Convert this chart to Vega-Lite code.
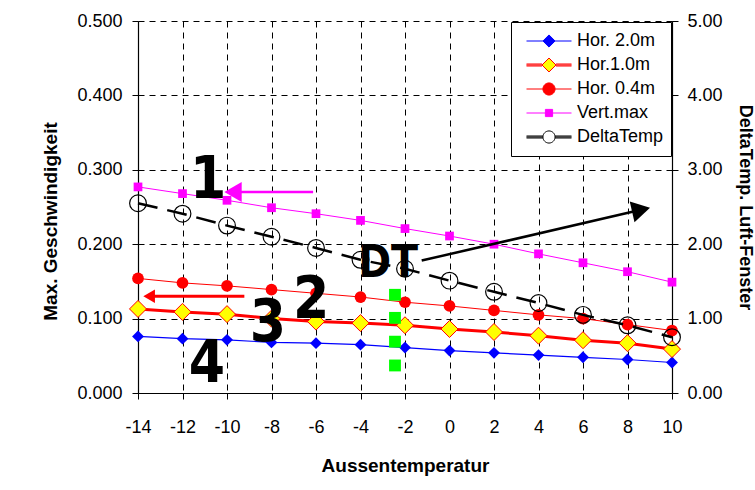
{
  "$schema": "https://vega.github.io/schema/vega-lite/v6.json",
  "width": 534,
  "height": 372,
  "autosize": {"type": "none"},
  "padding": {"left": 138, "top": 21, "right": 83, "bottom": 97},
  "background": "white",
  "config": {
    "view": {"stroke": null},
    "font": "Liberation Sans",
    "axis": {
      "labelFont": "Liberation Sans",
      "labelFontSize": 18,
      "labelColor": "#000000",
      "titleFont": "Liberation Sans",
      "titleFontSize": 19,
      "titleFontWeight": "bold",
      "titleColor": "#000000",
      "domainColor": "#000000",
      "domainWidth": 1.2,
      "tickColor": "#000000",
      "tickSize": 6,
      "labelFlush": false
    },
    "axisLeft": {"gridDash": [6, 5], "gridColor": "#000000", "gridWidth": 1},
    "axisBottom": {"gridDash": [6, 5], "gridColor": "#000000", "gridWidth": 1},
    "legend": {
      "orient": "top-right",
      "offset": 1,
      "padding": 7,
      "strokeColor": "#000000",
      "fillColor": "#FFFFFF",
      "symbolSize": 2025,
      "symbolStrokeWidth": 1,
      "symbolOpacity": 1,
      "symbolOffset": 8,
      "labelFont": "Liberation Sans",
      "labelFontSize": 18,
      "labelColor": "#000000",
      "labelOffset": 5,
      "rowPadding": 0,
      "clipHeight": 24
    }
  },
  "data": {
    "values": [
      {"x": -14, "series": "Hor. 2.0m", "v": 0.076},
      {"x": -12, "series": "Hor. 2.0m", "v": 0.073},
      {"x": -10, "series": "Hor. 2.0m", "v": 0.0715},
      {"x": -8, "series": "Hor. 2.0m", "v": 0.068},
      {"x": -6, "series": "Hor. 2.0m", "v": 0.067},
      {"x": -4, "series": "Hor. 2.0m", "v": 0.065},
      {"x": -2, "series": "Hor. 2.0m", "v": 0.061},
      {"x": 0, "series": "Hor. 2.0m", "v": 0.057},
      {"x": 2, "series": "Hor. 2.0m", "v": 0.054},
      {"x": 4, "series": "Hor. 2.0m", "v": 0.051},
      {"x": 6, "series": "Hor. 2.0m", "v": 0.048},
      {"x": 8, "series": "Hor. 2.0m", "v": 0.045},
      {"x": 10, "series": "Hor. 2.0m", "v": 0.041},
      {"x": -14, "series": "Hor.1.0m", "v": 0.113},
      {"x": -12, "series": "Hor.1.0m", "v": 0.109},
      {"x": -10, "series": "Hor.1.0m", "v": 0.106},
      {"x": -8, "series": "Hor.1.0m", "v": 0.100},
      {"x": -6, "series": "Hor.1.0m", "v": 0.096},
      {"x": -4, "series": "Hor.1.0m", "v": 0.094},
      {"x": -2, "series": "Hor.1.0m", "v": 0.091},
      {"x": 0, "series": "Hor.1.0m", "v": 0.086},
      {"x": 2, "series": "Hor.1.0m", "v": 0.082},
      {"x": 4, "series": "Hor.1.0m", "v": 0.077},
      {"x": 6, "series": "Hor.1.0m", "v": 0.071},
      {"x": 8, "series": "Hor.1.0m", "v": 0.067},
      {"x": 10, "series": "Hor.1.0m", "v": 0.059},
      {"x": -14, "series": "Hor. 0.4m", "v": 0.154},
      {"x": -12, "series": "Hor. 0.4m", "v": 0.148},
      {"x": -10, "series": "Hor. 0.4m", "v": 0.144},
      {"x": -8, "series": "Hor. 0.4m", "v": 0.139},
      {"x": -6, "series": "Hor. 0.4m", "v": 0.134},
      {"x": -4, "series": "Hor. 0.4m", "v": 0.129},
      {"x": -2, "series": "Hor. 0.4m", "v": 0.122},
      {"x": 0, "series": "Hor. 0.4m", "v": 0.117},
      {"x": 2, "series": "Hor. 0.4m", "v": 0.111},
      {"x": 4, "series": "Hor. 0.4m", "v": 0.105},
      {"x": 6, "series": "Hor. 0.4m", "v": 0.100},
      {"x": 8, "series": "Hor. 0.4m", "v": 0.092},
      {"x": 10, "series": "Hor. 0.4m", "v": 0.084},
      {"x": -14, "series": "Vert.max", "v": 0.277},
      {"x": -12, "series": "Vert.max", "v": 0.268},
      {"x": -10, "series": "Vert.max", "v": 0.259},
      {"x": -8, "series": "Vert.max", "v": 0.249},
      {"x": -6, "series": "Vert.max", "v": 0.241},
      {"x": -4, "series": "Vert.max", "v": 0.232},
      {"x": -2, "series": "Vert.max", "v": 0.221},
      {"x": 0, "series": "Vert.max", "v": 0.211},
      {"x": 2, "series": "Vert.max", "v": 0.200},
      {"x": 4, "series": "Vert.max", "v": 0.187},
      {"x": 6, "series": "Vert.max", "v": 0.175},
      {"x": 8, "series": "Vert.max", "v": 0.163},
      {"x": 10, "series": "Vert.max", "v": 0.149},
      {"x": -14, "series": "DeltaTemp", "v": 2.55},
      {"x": -12, "series": "DeltaTemp", "v": 2.41},
      {"x": -10, "series": "DeltaTemp", "v": 2.25},
      {"x": -8, "series": "DeltaTemp", "v": 2.10},
      {"x": -6, "series": "DeltaTemp", "v": 1.95},
      {"x": -4, "series": "DeltaTemp", "v": 1.79},
      {"x": -2, "series": "DeltaTemp", "v": 1.67},
      {"x": 0, "series": "DeltaTemp", "v": 1.51},
      {"x": 2, "series": "DeltaTemp", "v": 1.36},
      {"x": 4, "series": "DeltaTemp", "v": 1.21},
      {"x": 6, "series": "DeltaTemp", "v": 1.05},
      {"x": 8, "series": "DeltaTemp", "v": 0.91},
      {"x": 10, "series": "DeltaTemp", "v": 0.75}
    ]
  },
  "encoding": {
    "x": {
      "field": "x", "type": "quantitative",
      "scale": {"domain": [-14, 10], "nice": false, "zero": false},
      "axis": {
        "values": [-14, -12, -10, -8, -6, -4, -2, 0, 2, 4, 6, 8, 10],
        "labelExpr": "'' + datum.value",
        "labelFlush": false,
        "title": "Aussentemperatur",
        "grid": true,
        "labelPadding": 19,
        "titlePadding": 20
      }
    }
  },
  "layer": [
    {
      "encoding": {
        "y": {
          "field": "v", "type": "quantitative",
          "scale": {"domain": [0, 0.5], "nice": false},
          "axis": {
            "values": [0, 0.1, 0.2, 0.3, 0.4, 0.5],
            "format": ".3f",
            "title": "Max. Geschwindigkeit",
            "grid": true,
            "labelPadding": 10,
            "titleX": -78,
            "titleY": 200
          }
        }
      },
      "layer": [
        {"transform": [{"filter": "datum.series === 'Hor. 2.0m'"}],
         "mark": {"type": "line", "color": "#0000FF", "strokeWidth": 1.2}},
        {"transform": [{"filter": "datum.series === 'Hor. 2.0m'"}],
         "mark": {"type": "point", "shape": "diamond", "filled": true, "color": "#0000FF", "size": 140, "opacity": 1}},
        {"transform": [{"filter": "datum.series === 'Hor.1.0m'"}],
         "mark": {"type": "line", "color": "#FF0000", "strokeWidth": 3}},
        {"transform": [{"filter": "datum.series === 'Hor.1.0m'"}],
         "mark": {"type": "point", "shape": "diamond", "filled": true, "fill": "#FFFF00", "stroke": "#FF0000", "strokeWidth": 1, "size": 290, "opacity": 1}},
        {"transform": [{"filter": "datum.series === 'Hor. 0.4m'"}],
         "mark": {"type": "line", "color": "#FF0000", "strokeWidth": 1}},
        {"transform": [{"filter": "datum.series === 'Hor. 0.4m'"}],
         "mark": {"type": "point", "shape": "circle", "filled": true, "color": "#FF0000", "size": 137, "opacity": 1}},
        {"transform": [{"filter": "datum.series === 'Vert.max'"}],
         "mark": {"type": "line", "color": "#FF00FF", "strokeWidth": 1}},
        {"transform": [{"filter": "datum.series === 'Vert.max'"}],
         "mark": {"type": "point", "shape": "square", "filled": true, "color": "#FF00FF", "size": 76, "opacity": 1}}
      ]
    },
    {
      "transform": [{"filter": "datum.series === 'DeltaTemp'"}],
      "encoding": {
        "y": {
          "field": "v", "type": "quantitative",
          "scale": {"domain": [0, 5], "nice": false},
          "axis": {
            "orient": "right",
            "values": [0, 1, 2, 3, 4, 5],
            "format": ".2f",
            "title": "DeltaTemp. Luft-Fenster",
            "titleFontSize": 18,
            "grid": false,
            "labelPadding": 9,
            "titlePadding": 13
          }
        }
      },
      "layer": [
        {"mark": {"type": "line", "color": "#000000", "strokeWidth": 2.5, "strokeDash": [20, 10]}},
        {"mark": {"type": "point", "shape": "circle", "filled": false, "stroke": "#000000", "strokeWidth": 1.2, "size": 280, "opacity": 1}}
      ]
    },
    {
      "encoding": {
        "y": {"field": "v", "type": "quantitative", "scale": {"domain": [0, 0.5], "nice": false}, "axis": null}
      },
      "layer": [
        {
          "data": {"values": [
            {"x": -2.45, "v": 0.132}, {"x": -2.45, "v": 0.101},
            {"x": -2.45, "v": 0.069}, {"x": -2.45, "v": 0.037}
          ]},
          "mark": {"type": "point", "shape": "square", "filled": true, "color": "#00FF00", "size": 140, "opacity": 1}
        },
        {
          "data": {"values": [{"x": -6.13, "v": 0.270, "x2": -9.7, "v2": 0.270}]},
          "mark": {"type": "rule", "color": "#FF00FF", "strokeWidth": 2.5},
          "encoding": {"x2": {"field": "x2"}, "y2": {"field": "v2"}}
        },
        {
          "data": {"values": [{"x": -9.73, "v": 0.270}]},
          "mark": {"type": "point", "shape": "triangle-left", "filled": true, "color": "#FF00FF", "size": 400, "opacity": 1}
        },
        {
          "data": {"values": [{"x": -9.22, "v": 0.130, "x2": -13.4, "v2": 0.130}]},
          "mark": {"type": "rule", "color": "#FF0000", "strokeWidth": 3},
          "encoding": {"x2": {"field": "x2"}, "y2": {"field": "v2"}}
        },
        {
          "data": {"values": [{"x": -13.5, "v": 0.130}]},
          "mark": {"type": "point", "shape": "triangle-left", "filled": true, "color": "#FF0000", "size": 180, "opacity": 1}
        },
        {
          "data": {"values": [{"x": -1.25, "v": 0.178, "x2": 8.61, "v2": 0.2462}]},
          "mark": {"type": "rule", "color": "#000000", "strokeWidth": 2.5},
          "encoding": {"x2": {"field": "x2"}, "y2": {"field": "v2"}}
        },
        {
          "data": {"values": [{"x": 8.61, "v": 0.2462}]},
          "mark": {"type": "point", "shape": "triangle-right", "filled": true, "color": "#000000", "size": 450, "angle": 347, "opacity": 1}
        },
        {
          "data": {"values": [
            {"x": -10.85, "v": 0.2844, "label": "1"},
            {"x": -6.22, "v": 0.123, "label": "2"},
            {"x": -8.16, "v": 0.0921, "label": "3"},
            {"x": -10.9, "v": 0.037, "label": "4"}
          ]},
          "mark": {"type": "text", "font": "DejaVu Sans Condensed", "fontWeight": "bold", "fontSize": 58, "color": "#000000", "align": "center", "baseline": "middle"},
          "encoding": {"text": {"field": "label"}}
        },
        {
          "data": {"values": [{"x": -2.76, "v": 0.174, "label": "DT"}]},
          "mark": {"type": "text", "font": "DejaVu Sans Condensed", "fontWeight": "bold", "fontSize": 44, "color": "#000000", "align": "center", "baseline": "middle"},
          "encoding": {"text": {"field": "label"}}
        },
        {
          "data": {"values": [
            {"x": -14, "v": 0, "series": "Hor. 2.0m"},
            {"x": -14, "v": 0, "series": "Hor.1.0m"},
            {"x": -14, "v": 0, "series": "Hor. 0.4m"},
            {"x": -14, "v": 0, "series": "Vert.max"},
            {"x": -14, "v": 0, "series": "DeltaTemp"}
          ]},
          "mark": {"type": "point", "filled": true, "opacity": 0, "strokeWidth": 1},
          "encoding": {
            "shape": {
              "field": "series", "type": "nominal",
              "scale": {
                "domain": ["Hor. 2.0m", "Hor.1.0m", "Hor. 0.4m", "Vert.max", "DeltaTemp"],
                "range": [
                  "M-1,0H-0.27M0.27,0H1M-0.27,0L0,-0.27L0.27,0L0,0.27Z",
                  "M-1,-0.045H-0.31M-1,0H-0.31M-1,0.045H-0.31M0.31,-0.045H1M0.31,0H1M0.31,0.045H1M-0.31,0L0,-0.31L0.31,0L0,0.31Z",
                  "M-1,0H-0.27M0.27,0H1M-0.27,0A0.27,0.27 0 1,0 0.27,0A0.27,0.27 0 1,0 -0.27,0Z",
                  "M-1,0H-0.16M0.16,0H1M-0.16,-0.16H0.16V0.16H-0.16Z",
                  "M-1,-0.045H-0.27M-1,0H-0.27M-1,0.045H-0.27M0.27,-0.045H1M0.27,0H1M0.27,0.045H1M-0.27,0A0.27,0.27 0 1,0 0.27,0A0.27,0.27 0 1,0 -0.27,0Z"
                ]
              },
              "legend": {"title": null}
            },
            "fill": {
              "field": "series", "type": "nominal",
              "scale": {
                "domain": ["Hor. 2.0m", "Hor.1.0m", "Hor. 0.4m", "Vert.max", "DeltaTemp"],
                "range": ["#0000FF", "#FFFF00", "#FF0000", "#FF00FF", "#FFFFFF"]
              },
              "legend": {"title": null}
            },
            "stroke": {
              "field": "series", "type": "nominal",
              "scale": {
                "domain": ["Hor. 2.0m", "Hor.1.0m", "Hor. 0.4m", "Vert.max", "DeltaTemp"],
                "range": ["#0000FF", "#FF0000", "#FF0000", "#FF00FF", "#000000"]
              },
              "legend": {"title": null}
            }
          }
        }
      ]
    }
  ],
  "resolve": {"scale": {"y": "independent"}}
}
